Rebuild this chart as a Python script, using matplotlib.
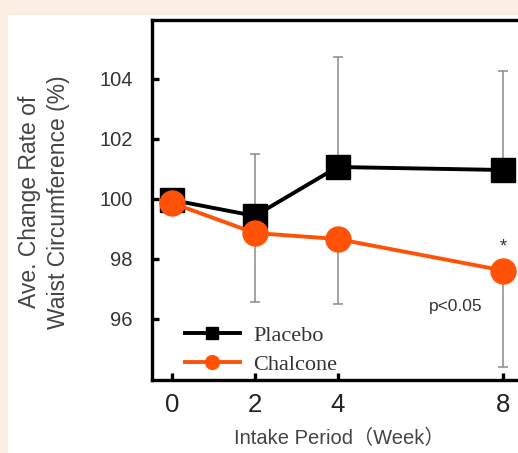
import matplotlib
matplotlib.use("Agg")
import matplotlib.pyplot as plt
from matplotlib.patches import Rectangle

weeks = [0, 2, 4, 8]
placebo = [99.95, 99.42, 101.05, 100.95]
placebo_err_up = [0.0, 2.07, 3.67, 3.30]
chalcone = [99.85, 98.85, 98.65, 97.60]
chalcone_err_down = [0.0, 2.30, 2.16, 3.20]
xticks = [0, 2, 4, 8]
yticks = [96, 98, 100, 102, 104]

W, H = 518, 453
fig = plt.figure(figsize=(W / 100, H / 100), dpi=100, facecolor="#FCEEE3")
fig.add_artist(Rectangle((8 / W, 0), 1, (H - 15) / H, transform=fig.transFigure,
                         facecolor="white", edgecolor="none", zorder=0))

ax = fig.add_axes([152 / W, 73 / H, (545 - 152) / W, 360 / H])
ax.set_facecolor("white")

orange = "#FF5208"
errc = "#8a8a8a"

ax.errorbar(weeks, placebo, yerr=[[0] * 4, placebo_err_up], fmt="none",
            ecolor=errc, elinewidth=1.1, capsize=3.5, capthick=1.1, zorder=2)
ax.errorbar(weeks, chalcone, yerr=[chalcone_err_down, [0] * 4], fmt="none",
            ecolor=errc, elinewidth=1.1, capsize=3.5, capthick=1.1, zorder=2)

ax.plot(weeks, placebo, color="black", lw=2.8, marker="s", ms=17,
        mec="black", mfc="black", label="Placebo", zorder=3)
ax.plot(weeks, chalcone, color=orange, lw=2.8, marker="o", ms=18,
        mec=orange, mfc=orange, label="Chalcone", zorder=4)

ax.set_xlim(-0.483, (545 - 172) / 41.4)
ax.set_ylim(93.95, 105.95)
ax.set_xticks(xticks)
ax.set_yticks(yticks)

for s in ["top", "left", "bottom"]:
    ax.spines[s].set_linewidth(2.4)
    ax.spines[s].set_color("black")
ax.spines["right"].set_visible(False)

ax.tick_params(axis="both", direction="in", length=5, width=2.4, color="black")
ax.tick_params(axis="x", pad=9, labelsize=18.5, labelcolor="#222222")
ax.tick_params(axis="y", pad=14, labelsize=14.5, labelcolor="#333333")
for lab in ax.get_xticklabels() + ax.get_yticklabels():
    lab.set_family("Liberation Sans")

ax.text(8, 98.4, "*", ha="center", va="center", fontsize=13, color="#333333",
        family="Liberation Sans")
ax.text(6.86, 96.39, "p<0.05", ha="center", va="center", fontsize=12.5,
        color="#333333", family="Liberation Sans")

leg = ax.legend(loc="upper left", bbox_to_anchor=(0.062, 0.177), frameon=False,
                prop={"family": "Liberation Serif", "size": 16},
                markerscale=0.55, handlelength=2.45, handletextpad=0.6,
                labelspacing=0.38, borderaxespad=0)
for t in leg.get_texts():
    t.set_color("#333333")

fig.text(44 / W, 1 - 202 / H, "Ave. Change Rate of\nWaist Circumference (%)",
         rotation=90, ha="center", va="center", multialignment="center",
         fontsize=16.5, color="#444444", family="Liberation Sans", linespacing=1.35)
fig.text(339 / W, 1 - 438 / H, "Intake Period（Week）", ha="center", va="center",
         fontsize=14.5, color="#444444", family=["Liberation Sans", "Noto Sans CJK JP"])

fig.savefig("out.png", dpi=100, facecolor=fig.get_facecolor())
